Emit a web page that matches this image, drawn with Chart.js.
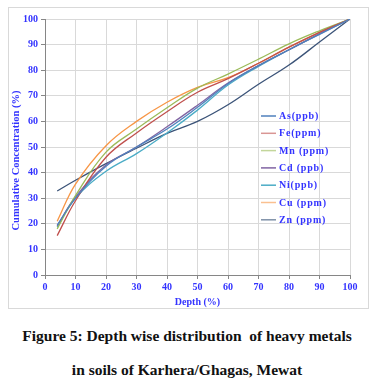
<!DOCTYPE html>
<html>
<head>
<meta charset="utf-8">
<script src="https://cdn.jsdelivr.net/npm/chart.js@4.4.0/dist/chart.umd.min.js"></script>
<style>
  html, body { margin: 0; padding: 0; background: #fff; }
  body { width: 374px; height: 390px; position: relative; overflow: hidden; }
  #box { position: absolute; left: 8px; top: 7px; width: 361px; height: 302px;
         border: 1px solid #d9d9d9; box-sizing: border-box; }
  #box canvas { display: block; }
  .cap { position: absolute; left: 0; width: 374px; text-align: center;
         font-family: 'Liberation Serif', 'Times New Roman', serif; font-weight: bold;
         font-size: 15.5px; color: #111; white-space: nowrap; }
</style>
</head>
<body>
<div id="box"><canvas id="c" width="359" height="300"></canvas></div>
<div class="cap" style="top:327px;">Figure 5: Depth wise distribution&nbsp; of heavy metals</div>
<div class="cap" style="top:361px;">in soils of Karhera/Ghagas, Mewat</div>
<script>
// depth (%) positions of the samples
const depth = [4, 10, 20, 30, 40, 50, 60, 70, 80, 90, 100];

// cumulative concentration (%)
const asVals = [19.5, 30, 42.5, 50, 57, 65.5, 74.7, 81.8, 88, 94, 100];
const feVals = [15.4, 29, 46, 55.5, 63.8, 71.4, 76.7, 82.7, 89, 94.8, 100];
const mnVals = [18, 31, 48, 57, 65.3, 73, 78.5, 84.3, 90.3, 95.4, 100];
const cdVals = [19.2, 30.5, 43, 50, 57.9, 66.3, 75, 81.8, 88, 94.2, 100];
const niVals = [18.7, 30, 40.5, 47.4, 55.5, 64.4, 74.2, 81.5, 88, 94.2, 100];
const cuVals = [21, 35.5, 50.5, 60, 67.5, 73.3, 77.1, 82.7, 89, 94.8, 100];
const znVals = [32.8, 37, 43.5, 49.5, 55.3, 60, 66.5, 74.5, 82, 91, 100];

const seriesNames = ['As(ppb)', 'Fe(ppm)', 'Mn (ppm)', 'Cd (ppb)', 'Ni(ppb)', 'Cu (ppm)', 'Zn (ppm)'];
const seriesVals = [asVals, feVals, mnVals, cdVals, niVals, cuVals, znVals];
const seriesColors = ['#4F81BD', '#C0504D', '#9BBB59', '#8064A2', '#4BACC6', '#F79646', '#3B5378'];
const legendColors = ['#4F81BD', '#D99694', '#C3D69B', '#8064A2', '#4BACC6', '#FAC090', '#7F91A8'];

const yTicks = [0, 10, 20, 30, 40, 50, 60, 70, 80, 90, 100];
const xTicks = [0, 10, 20, 30, 40, 50, 60, 70, 80, 90, 100];

const BLUE = '#3333FF';
const SERIF = "'Liberation Serif', 'Times New Roman', serif";

// legend inside the plot and the y title, placed like the Excel original
const extras = {
  id: 'extras',
  afterDraw(chart) {
    const ctx = chart.ctx;
    ctx.save();
    ctx.font = 'bold 10px ' + SERIF;
    ctx.letterSpacing = '0.8px';
    ctx.textBaseline = 'middle';
    ctx.fillStyle = BLUE;
    seriesNames.forEach((n, i) => {
      const y = 108 + i * 17.3;
      ctx.strokeStyle = legendColors[i];
      ctx.lineWidth = 1.5;
      ctx.beginPath(); ctx.moveTo(252, y); ctx.lineTo(267, y); ctx.stroke();
      ctx.fillText(n, 270, y + 0.5);
    });
    ctx.restore();

    ctx.save();
    ctx.font = 'bold 10.5px ' + SERIF;
    ctx.fillStyle = BLUE;
    ctx.textAlign = 'center';
    ctx.textBaseline = 'middle';
    ctx.translate(7, 152.5);
    ctx.rotate(-Math.PI / 2);
    ctx.fillText('Cumulative Concentration (%)', 0, 0);
    ctx.restore();
  }
};

new Chart(document.getElementById('c'), {
  type: 'line',
  data: {
    datasets: seriesNames.map((n, i) => ({
      label: n,
      data: depth.map((d, j) => ({ x: d, y: seriesVals[i][j] })),
      borderColor: seriesColors[i],
      borderWidth: 1.3,
      pointRadius: 0,
      fill: false,
      tension: 0.4
    }))
  },
  options: {
    responsive: false,
    animation: false,
    layout: { padding: { left: 0, right: 18, top: 11, bottom: 0 } },
    plugins: { legend: { display: false }, tooltip: { enabled: false } },
    scales: {
      x: {
        type: 'linear', min: 0, max: 100,
        afterBuildTicks: s => { s.ticks = xTicks.map(v => ({ value: v })); },
        afterFit: s => { s.height = 33; },
        grid: { color: '#d9d9d9', tickColor: '#868686', tickLength: 4 },
        border: { color: '#868686' },
        ticks: { color: BLUE, font: { family: SERIF, size: 10, weight: 'bold' }, padding: 2, maxRotation: 0 },
        title: { display: true, text: 'Depth (%)', color: BLUE, font: { family: SERIF, size: 10, weight: 'bold' }, padding: { top: 2, bottom: 0 } }
      },
      y: {
        min: 0, max: 100,
        afterBuildTicks: s => { s.ticks = yTicks.map(v => ({ value: v })); },
        afterFit: s => { s.width = 36; },
        grid: { color: '#d9d9d9', tickColor: '#868686', tickLength: 4 },
        border: { color: '#868686' },
        ticks: { color: BLUE, font: { family: SERIF, size: 10, weight: 'bold' }, padding: 3 }
      }
    }
  },
  plugins: [extras]
});
</script>
</body>
</html>
